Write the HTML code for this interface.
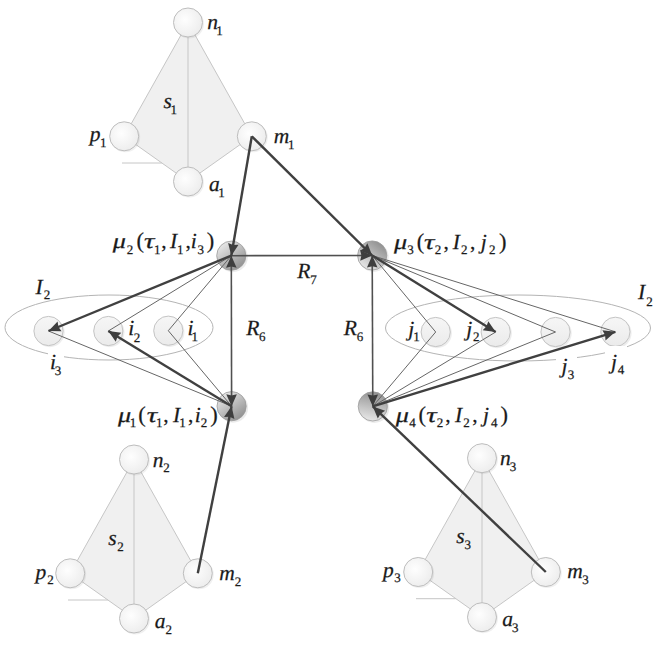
<!DOCTYPE html><html><head><meta charset="utf-8"><style>html,body{margin:0;padding:0;background:#fff;} svg{display:block;} text{font-family:"Liberation Serif",serif;fill:#1a1a1a;stroke:#1a1a1a;stroke-width:0.25px;text-rendering:geometricPrecision;}</style></head><body>
<svg width="664" height="645" viewBox="0 0 664 645">
<defs>
<radialGradient id="gw" cx="0.4" cy="0.4" r="0.7"><stop offset="0" stop-color="#fefefe"/><stop offset="1" stop-color="#ebebeb"/></radialGradient>
<linearGradient id="gs" x1="0" y1="0" x2="0" y2="1"><stop offset="0" stop-color="#f6f6f6"/><stop offset="1" stop-color="#ebebeb"/></linearGradient>
<linearGradient id="gm2" x1="0.2" y1="0.1" x2="0.8" y2="0.9"><stop offset="0" stop-color="#e6e6e6"/><stop offset="1" stop-color="#929292"/></linearGradient>
<linearGradient id="gm3" x1="0.2" y1="0.9" x2="0.8" y2="0.1"><stop offset="0" stop-color="#e6e6e6"/><stop offset="1" stop-color="#929292"/></linearGradient>
<linearGradient id="gm4" x1="0.3" y1="1" x2="0.5" y2="0"><stop offset="0" stop-color="#eaeaea"/><stop offset="1" stop-color="#929292"/></linearGradient>
</defs>
<rect width="664" height="645" fill="#fff"/>
<polygon points="188,22.5 124.2,136.3 188,181.5 251.8,136.3" fill="#f0f0f0" stroke="#c6c6c6" stroke-width="1"/>
<line x1="188" y1="22.5" x2="188" y2="181.5" stroke="#c6c6c6" stroke-width="1"/>
<line x1="122" y1="163.0" x2="161.88716814159292" y2="163.0" stroke="#c6c6c6" stroke-width="1"/>
<circle cx="189.2" cy="23.7" r="14.8" fill="#000" opacity="0.06"/>
<circle cx="188" cy="22.5" r="14.5" fill="url(#gw)" stroke="#bdbdbd" stroke-width="1"/>
<circle cx="125.4" cy="137.5" r="14.8" fill="#000" opacity="0.06"/>
<circle cx="124.2" cy="136.3" r="14.5" fill="url(#gw)" stroke="#bdbdbd" stroke-width="1"/>
<circle cx="253.0" cy="137.5" r="14.8" fill="#000" opacity="0.06"/>
<circle cx="251.8" cy="136.3" r="14.5" fill="url(#gw)" stroke="#bdbdbd" stroke-width="1"/>
<circle cx="189.2" cy="182.7" r="14.8" fill="#000" opacity="0.06"/>
<circle cx="188" cy="181.5" r="14.5" fill="url(#gw)" stroke="#bdbdbd" stroke-width="1"/>
<polygon points="134,459.5 70.2,573.3 134,618.5 197.8,573.3" fill="#f0f0f0" stroke="#c6c6c6" stroke-width="1"/>
<line x1="134" y1="459.5" x2="134" y2="618.5" stroke="#c6c6c6" stroke-width="1"/>
<line x1="68" y1="600.0" x2="107.88716814159295" y2="600.0" stroke="#c6c6c6" stroke-width="1"/>
<circle cx="135.2" cy="460.7" r="14.8" fill="#000" opacity="0.06"/>
<circle cx="134" cy="459.5" r="14.5" fill="url(#gw)" stroke="#bdbdbd" stroke-width="1"/>
<circle cx="71.4" cy="574.5" r="14.8" fill="#000" opacity="0.06"/>
<circle cx="70.2" cy="573.3" r="14.5" fill="url(#gw)" stroke="#bdbdbd" stroke-width="1"/>
<circle cx="199.0" cy="574.5" r="14.8" fill="#000" opacity="0.06"/>
<circle cx="197.8" cy="573.3" r="14.5" fill="url(#gw)" stroke="#bdbdbd" stroke-width="1"/>
<circle cx="135.2" cy="619.7" r="14.8" fill="#000" opacity="0.06"/>
<circle cx="134" cy="618.5" r="14.5" fill="url(#gw)" stroke="#bdbdbd" stroke-width="1"/>
<polygon points="482,458.2 418.2,572.0 482,617.2 545.8,572.0" fill="#f0f0f0" stroke="#c6c6c6" stroke-width="1"/>
<line x1="482" y1="458.2" x2="482" y2="617.2" stroke="#c6c6c6" stroke-width="1"/>
<line x1="416" y1="598.7" x2="455.88716814159295" y2="598.7" stroke="#c6c6c6" stroke-width="1"/>
<circle cx="483.2" cy="459.4" r="14.8" fill="#000" opacity="0.06"/>
<circle cx="482" cy="458.2" r="14.5" fill="url(#gw)" stroke="#bdbdbd" stroke-width="1"/>
<circle cx="419.4" cy="573.2" r="14.8" fill="#000" opacity="0.06"/>
<circle cx="418.2" cy="572.0" r="14.5" fill="url(#gw)" stroke="#bdbdbd" stroke-width="1"/>
<circle cx="547.0" cy="573.2" r="14.8" fill="#000" opacity="0.06"/>
<circle cx="545.8" cy="572.0" r="14.5" fill="url(#gw)" stroke="#bdbdbd" stroke-width="1"/>
<circle cx="483.2" cy="618.4000000000001" r="14.8" fill="#000" opacity="0.06"/>
<circle cx="482" cy="617.2" r="14.5" fill="url(#gw)" stroke="#bdbdbd" stroke-width="1"/>
<ellipse cx="109" cy="327.5" rx="104" ry="32.5" fill="none" stroke="#b4b4b4" stroke-width="1"/>
<ellipse cx="518" cy="328" rx="132.5" ry="33" fill="none" stroke="#b4b4b4" stroke-width="1"/>
<circle cx="49.8" cy="332.3" r="14.9" fill="#000" opacity="0.07"/>
<circle cx="48.5" cy="331" r="14.6" fill="url(#gs)" stroke="#c4c4c4" stroke-width="1"/>
<circle cx="109.6" cy="332.3" r="14.9" fill="#000" opacity="0.07"/>
<circle cx="108.3" cy="331" r="14.6" fill="url(#gs)" stroke="#c4c4c4" stroke-width="1"/>
<circle cx="169.60000000000002" cy="332.0" r="14.9" fill="#000" opacity="0.07"/>
<circle cx="168.3" cy="330.7" r="14.6" fill="url(#gs)" stroke="#c4c4c4" stroke-width="1"/>
<circle cx="437.0" cy="333.3" r="14.9" fill="#000" opacity="0.07"/>
<circle cx="435.7" cy="332" r="14.6" fill="url(#gs)" stroke="#c4c4c4" stroke-width="1"/>
<circle cx="497.0" cy="333.3" r="14.9" fill="#000" opacity="0.07"/>
<circle cx="495.7" cy="332" r="14.6" fill="url(#gs)" stroke="#c4c4c4" stroke-width="1"/>
<circle cx="556.8" cy="333.3" r="14.9" fill="#000" opacity="0.07"/>
<circle cx="555.5" cy="332" r="14.6" fill="url(#gs)" stroke="#c4c4c4" stroke-width="1"/>
<circle cx="616.6999999999999" cy="333.1" r="14.9" fill="#000" opacity="0.07"/>
<circle cx="615.4" cy="331.8" r="14.6" fill="url(#gs)" stroke="#c4c4c4" stroke-width="1"/>
<circle cx="233.1" cy="407.7" r="15" fill="#000" opacity="0.08"/>
<circle cx="231.6" cy="406.2" r="14.6" fill="url(#gm2)" stroke="#9a9a9a" stroke-width="0.8"/>
<circle cx="232.8" cy="257.2" r="15" fill="#000" opacity="0.08"/>
<circle cx="231.3" cy="255.7" r="14.6" fill="url(#gm2)" stroke="#9a9a9a" stroke-width="0.8"/>
<circle cx="373.7" cy="257.0" r="15" fill="#000" opacity="0.08"/>
<circle cx="372.2" cy="255.5" r="14.6" fill="url(#gm3)" stroke="#9a9a9a" stroke-width="0.8"/>
<circle cx="374.3" cy="407.9" r="15" fill="#000" opacity="0.08"/>
<circle cx="372.8" cy="406.4" r="14.6" fill="url(#gm4)" stroke="#9a9a9a" stroke-width="0.8"/>
<line x1="231.3" y1="255.7" x2="108.3" y2="331" stroke="#666666" stroke-width="1.0"/>
<line x1="231.3" y1="255.7" x2="168.3" y2="330.7" stroke="#666666" stroke-width="1.0"/>
<line x1="48.5" y1="331" x2="231.6" y2="406.2" stroke="#666666" stroke-width="1.0"/>
<line x1="168.3" y1="330.7" x2="231.6" y2="406.2" stroke="#666666" stroke-width="1.0"/>
<line x1="372.2" y1="255.5" x2="435.7" y2="332" stroke="#666666" stroke-width="1.0"/>
<line x1="372.2" y1="255.5" x2="555.5" y2="332" stroke="#666666" stroke-width="1.0"/>
<line x1="372.2" y1="255.5" x2="615.4" y2="331.8" stroke="#666666" stroke-width="1.0"/>
<line x1="372.8" y1="406.4" x2="435.7" y2="332" stroke="#666666" stroke-width="1.0"/>
<line x1="372.8" y1="406.4" x2="495.7" y2="332" stroke="#666666" stroke-width="1.0"/>
<line x1="372.8" y1="406.4" x2="555.5" y2="332" stroke="#666666" stroke-width="1.0"/>
<line x1="231.3" y1="255.7" x2="372.2" y2="255.5" stroke="#505050" stroke-width="1.6"/>
<polygon points="372.20,255.50 360.21,260.82 361.40,255.52 360.19,250.22" fill="#3e3e3e"/>
<line x1="231.3" y1="255.7" x2="231.6" y2="406.2" stroke="#505050" stroke-width="1.6"/>
<polygon points="231.60,406.20 226.28,394.21 231.58,395.40 236.88,394.19" fill="#3e3e3e"/>
<polygon points="231.30,255.70 236.62,267.69 231.32,266.50 226.02,267.71" fill="#3e3e3e"/>
<line x1="372.2" y1="255.5" x2="372.8" y2="406.4" stroke="#505050" stroke-width="1.6"/>
<polygon points="372.80,406.40 367.45,394.42 372.76,395.60 378.05,394.38" fill="#3e3e3e"/>
<polygon points="372.20,255.50 377.55,267.48 372.24,266.30 366.95,267.52" fill="#3e3e3e"/>
<line x1="251.8" y1="136.3" x2="231.3" y2="255.7" stroke="#404040" stroke-width="2.4"/>
<polygon points="231.30,255.70 228.11,242.98 233.13,245.06 238.55,244.77" fill="#3e3e3e"/>
<line x1="251.8" y1="136.3" x2="372.2" y2="255.5" stroke="#404040" stroke-width="2.4"/>
<polygon points="372.20,255.50 359.94,250.82 364.53,247.90 367.40,243.29" fill="#3e3e3e"/>
<line x1="231.3" y1="255.7" x2="48.5" y2="331" stroke="#404040" stroke-width="2.4"/>
<polygon points="48.50,331.00 57.58,321.53 58.49,326.89 61.61,331.33" fill="#3e3e3e"/>
<line x1="231.6" y1="406.2" x2="108.3" y2="331" stroke="#404040" stroke-width="2.4"/>
<polygon points="108.30,331.00 121.30,332.72 117.52,336.62 115.79,341.77" fill="#3e3e3e"/>
<line x1="197.8" y1="573.3" x2="231.6" y2="406.2" stroke="#404040" stroke-width="2.4"/>
<polygon points="231.60,406.20 234.42,419.01 229.46,416.79 224.03,416.91" fill="#3e3e3e"/>
<line x1="372.2" y1="255.5" x2="495.7" y2="332" stroke="#404040" stroke-width="2.4"/>
<polygon points="495.70,332.00 482.71,330.19 486.52,326.31 488.29,321.18" fill="#3e3e3e"/>
<line x1="372.8" y1="406.4" x2="615.4" y2="331.8" stroke="#404040" stroke-width="2.4"/>
<polygon points="615.40,331.80 605.49,340.39 605.08,334.97 602.37,330.26" fill="#3e3e3e"/>
<line x1="545.8" y1="572.0" x2="372.8" y2="406.4" stroke="#404040" stroke-width="2.4"/>
<polygon points="372.80,406.40 385.13,410.87 380.60,413.87 377.80,418.53" fill="#3e3e3e"/>
<rect x="48" y="352" width="16" height="24" fill="#fff"/>
<rect x="556" y="354" width="21" height="26" fill="#fff"/>
<rect x="605" y="346" width="22" height="30" fill="#fff"/>
<text x="207.29" y="29.30" font-size="21.5" font-style="italic">n</text>
<text x="216.17" y="35.00" font-size="13.0">1</text>
<text x="89.78" y="141.30" font-size="21.5" font-style="italic">p</text>
<text x="100.02" y="147.00" font-size="13.0">1</text>
<text x="273.80" y="143.30" font-size="21.5" font-style="italic">m</text>
<text x="287.92" y="148.70" font-size="13.0">1</text>
<text x="209.06" y="191.00" font-size="21.5" font-style="italic">a</text>
<text x="218.17" y="196.80" font-size="13.0">1</text>
<text x="163.51" y="108.00" font-size="21.5" font-style="italic">s</text>
<text x="170.52" y="114.30" font-size="13.0">1</text>
<text x="152.64" y="466.50" font-size="21.5" font-style="italic">n</text>
<text x="163.17" y="472.30" font-size="13.0">2</text>
<text x="35.53" y="578.50" font-size="21.5" font-style="italic">p</text>
<text x="47.37" y="584.30" font-size="13.0">2</text>
<text x="219.20" y="580.00" font-size="21.5" font-style="italic">m</text>
<text x="234.67" y="586.30" font-size="13.0">2</text>
<text x="154.66" y="628.00" font-size="21.5" font-style="italic">a</text>
<text x="165.52" y="633.60" font-size="13.0">2</text>
<text x="108.26" y="545.30" font-size="21.5" font-style="italic">s</text>
<text x="117.17" y="551.40" font-size="13.0">2</text>
<text x="500.04" y="464.60" font-size="21.5" font-style="italic">n</text>
<text x="509.64" y="470.90" font-size="13.0">3</text>
<text x="382.98" y="577.00" font-size="21.5" font-style="italic">p</text>
<text x="394.19" y="582.40" font-size="13.0">3</text>
<text x="567.20" y="578.00" font-size="21.5" font-style="italic">m</text>
<text x="582.29" y="584.30" font-size="13.0">3</text>
<text x="502.21" y="626.00" font-size="21.5" font-style="italic">a</text>
<text x="511.99" y="632.00" font-size="13.0">3</text>
<text x="456.16" y="543.00" font-size="21.5" font-style="italic">s</text>
<text x="464.39" y="549.40" font-size="13.0">3</text>
<text x="297.27" y="278.00" font-size="21.5" font-style="italic">R</text>
<text x="310.26" y="283.70" font-size="13.0">7</text>
<text x="246.17" y="335.20" font-size="21.5" font-style="italic">R</text>
<text x="259.06" y="341.30" font-size="13.0">6</text>
<text x="343.77" y="335.20" font-size="21.5" font-style="italic">R</text>
<text x="356.66" y="341.30" font-size="13.0">6</text>
<text x="35.49" y="293.70" font-size="21.5" font-style="italic">I</text>
<text x="43.72" y="299.40" font-size="13.0">2</text>
<text x="637.94" y="299.30" font-size="21.5" font-style="italic">I</text>
<text x="646.37" y="305.50" font-size="13.0">2</text>
<text x="49.94" y="368.70" font-size="21.5" font-style="italic">i</text>
<text x="54.74" y="374.70" font-size="13.0">3</text>
<text x="128.34" y="335.00" font-size="21.5" font-style="italic">i</text>
<text x="133.82" y="341.60" font-size="13.0">2</text>
<text x="187.59" y="335.10" font-size="21.5" font-style="italic">i</text>
<text x="191.62" y="341.20" font-size="13.0">1</text>
<text x="408.28" y="335.60" font-size="21.5" font-style="italic">j</text>
<text x="413.37" y="341.20" font-size="13.0">1</text>
<text x="466.18" y="335.60" font-size="21.5" font-style="italic">j</text>
<text x="473.07" y="341.20" font-size="13.0">2</text>
<text x="561.48" y="372.70" font-size="21.5" font-style="italic">j</text>
<text x="567.64" y="378.60" font-size="13.0">3</text>
<text x="610.98" y="368.80" font-size="21.5" font-style="italic">j</text>
<text x="617.67" y="374.40" font-size="13.0">4</text>
<text transform="translate(112.72,248.00) scale(1.22,1)" font-size="21.5" font-style="italic">μ</text>
<text x="126.72" y="254.00" font-size="13.0">2</text>
<text x="136.42" y="248.00" font-size="22.5">(</text>
<text transform="translate(144.05,248.00) scale(1.35,1)" font-size="21.5" font-style="italic">τ</text>
<text x="154.02" y="254.00" font-size="13.0">1</text>
<text x="161.18" y="248.00" font-size="21.5">,</text>
<text x="170.04" y="248.00" font-size="21.5" font-style="italic">I</text>
<text x="176.92" y="254.00" font-size="13.0">1</text>
<text x="185.38" y="248.00" font-size="21.5">,</text>
<text x="190.84" y="248.00" font-size="21.5" font-style="italic">i</text>
<text x="197.59" y="254.00" font-size="13.0">3</text>
<text x="206.79" y="248.00" font-size="22.5">)</text>
<text transform="translate(118.07,422.00) scale(1.22,1)" font-size="21.5" font-style="italic">μ</text>
<text x="129.77" y="427.00" font-size="13.0">1</text>
<text x="138.17" y="422.00" font-size="22.5">(</text>
<text transform="translate(146.65,422.00) scale(1.35,1)" font-size="21.5" font-style="italic">τ</text>
<text x="155.97" y="427.00" font-size="13.0">1</text>
<text x="163.33" y="422.00" font-size="21.5">,</text>
<text x="172.94" y="422.00" font-size="21.5" font-style="italic">I</text>
<text x="179.37" y="427.00" font-size="13.0">1</text>
<text x="188.03" y="422.00" font-size="21.5">,</text>
<text x="194.84" y="422.00" font-size="21.5" font-style="italic">i</text>
<text x="200.82" y="427.00" font-size="13.0">2</text>
<text x="210.14" y="422.00" font-size="22.5">)</text>
<text transform="translate(394.07,249.00) scale(1.22,1)" font-size="21.5" font-style="italic">μ</text>
<text x="407.24" y="254.00" font-size="13.0">3</text>
<text x="416.87" y="249.00" font-size="22.5">(</text>
<text transform="translate(424.05,249.00) scale(1.35,1)" font-size="21.5" font-style="italic">τ</text>
<text x="434.72" y="254.00" font-size="13.0">2</text>
<text x="443.38" y="249.00" font-size="21.5">,</text>
<text x="452.64" y="249.00" font-size="21.5" font-style="italic">I</text>
<text x="461.07" y="254.00" font-size="13.0">2</text>
<text x="469.98" y="249.00" font-size="21.5">,</text>
<text x="480.73" y="249.00" font-size="21.5" font-style="italic">j</text>
<text x="489.07" y="254.00" font-size="13.0">2</text>
<text x="499.04" y="249.00" font-size="22.5">)</text>
<text transform="translate(395.82,422.00) scale(1.22,1)" font-size="21.5" font-style="italic">μ</text>
<text x="409.27" y="427.30" font-size="13.0">4</text>
<text x="418.62" y="422.00" font-size="22.5">(</text>
<text transform="translate(426.25,422.00) scale(1.35,1)" font-size="21.5" font-style="italic">τ</text>
<text x="436.72" y="427.30" font-size="13.0">2</text>
<text x="445.33" y="422.00" font-size="21.5">,</text>
<text x="454.89" y="422.00" font-size="21.5" font-style="italic">I</text>
<text x="463.32" y="427.30" font-size="13.0">2</text>
<text x="472.18" y="422.00" font-size="21.5">,</text>
<text x="482.98" y="422.00" font-size="21.5" font-style="italic">j</text>
<text x="490.97" y="427.30" font-size="13.0">4</text>
<text x="500.59" y="422.00" font-size="22.5">)</text>
</svg></body></html>
